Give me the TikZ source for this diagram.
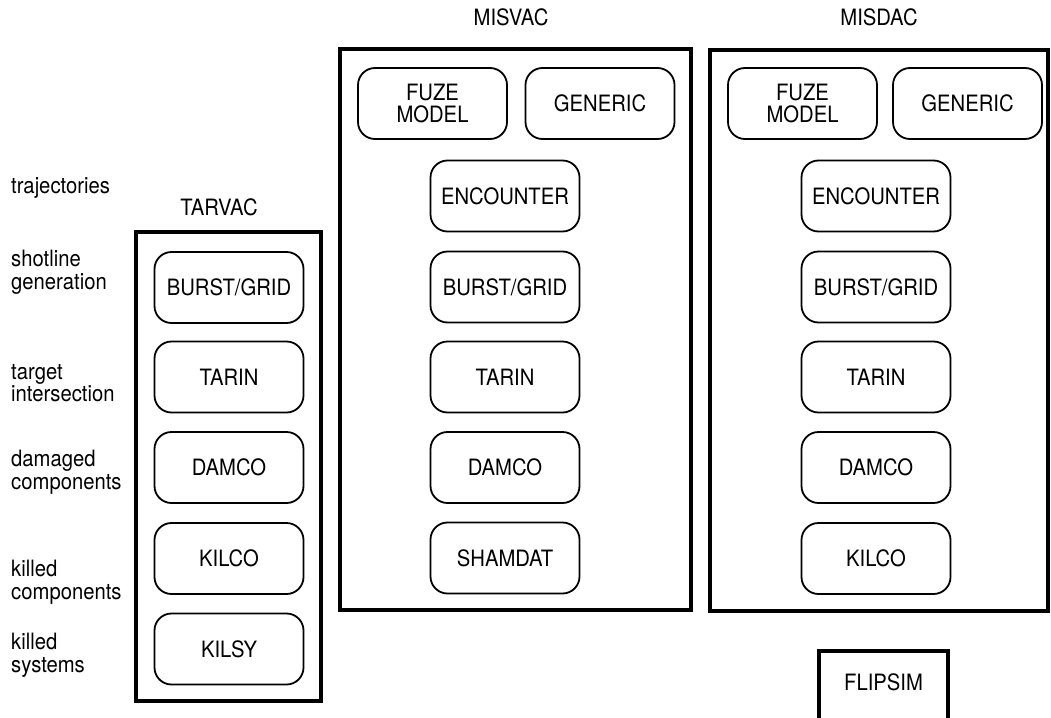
\documentclass[tikz,border=0pt]{standalone}
\usepackage{fontspec}
\setmainfont{TeX Gyre Heros}[FakeStretch=0.9]
\begin{document}
\begin{tikzpicture}[x=1pt,y=-1pt,
  txt/.style={font=\fontsize{22.5}{22.5}\selectfont},
  module/.style={txt, draw, line width=1.8pt, rounded corners=17pt,
    minimum width=149pt, minimum height=71pt, inner sep=0pt, align=center},
  suite/.style={draw, line width=4pt, inner sep=0pt},
  stage/.style={txt, anchor=west, align=left, inner sep=0pt},
  title/.style={txt, inner sep=0pt}]
\useasboundingbox (0,0) rectangle (1051,717);
\clip (0,0) rectangle (1051,717);

% processing stages
\node[stage] (s1) at (11,188) {trajectories};
\node[stage] (s2) at (11,272) {shotline\\generation};
\node[stage] (s3) at (11,383) {target\\intersection};
\node[stage] (s4) at (11,472) {damaged\\components};
\node[stage] (s5) at (11,582) {killed\\components};
\node[stage] (s6) at (11,655) {killed\\systems};

% TARVAC
\node[title] (tarvacT) at (219,207) {TARVAC};
\node[suite, minimum width=185pt, minimum height=469pt] (tarvac) at (228.5,466.5) {};
\node[module] (t1) at (229,287.5) {BURST/GRID};
\node[module] (t2) at (229,377) {TARIN};
\node[module] (t3) at (229,467.5) {DAMCO};
\node[module] (t4) at (229,558.5) {KILCO};
\node[module] (t5) at (229,649) {KILSY};

% MISVAC
\node[title] (misvacT) at (511,17) {MISVAC};
\node[suite, minimum width=351pt, minimum height=561pt] (misvac) at (515.5,329.5) {};
\node[module] (v1) at (432.5,103.5) {FUZE\\MODEL};
\node[module] (v2) at (600,103.5) {GENERIC};
\node[module] (v3) at (505,196) {ENCOUNTER};
\node[module] (v4) at (505,287) {BURST/GRID};
\node[module] (v5) at (505,377) {TARIN};
\node[module] (v6) at (505,467.5) {DAMCO};
\node[module] (v7) at (505,558) {SHAMDAT};

% MISDAC
\node[title] (misdacT) at (879,17) {MISDAC};
\node[suite, minimum width=338pt, minimum height=561pt] (misdac) at (879,330.5) {};
\node[module] (d1) at (802.5,103.5) {FUZE\\MODEL};
\node[module] (d2) at (967.5,103.5) {GENERIC};
\node[module] (d3) at (876,196) {ENCOUNTER};
\node[module] (d4) at (876,287) {BURST/GRID};
\node[module] (d5) at (876,377) {TARIN};
\node[module] (d6) at (876,467.5) {DAMCO};
\node[module] (d7) at (876,558.5) {KILCO};

% FLIPSIM
\node[suite, minimum width=129pt, minimum height=111pt, anchor=north] (flipsim) at (883.5,649) {};
\node[title] (flipsimT) at (883.5,682) {FLIPSIM};
\end{tikzpicture}
\end{document}
